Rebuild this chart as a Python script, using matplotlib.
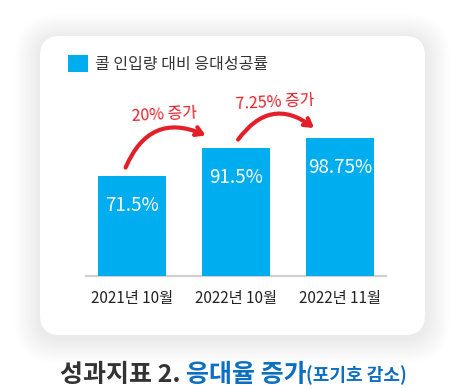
import matplotlib
matplotlib.use("Agg")
import matplotlib.pyplot as plt
from matplotlib.patches import FancyBboxPatch, Patch

plt.rcParams['font.family'] = ['Noto Sans CJK KR', 'DejaVu Sans']

# data
periods = ['2021년 10월', '2022년 10월', '2022년 11월']
rates = [71.5, 91.5, 98.75]
rate_labels = ['71.5%', '91.5%', '98.75%']
growth_labels = ['20% 증가', '7.25% 증가']
legend_label = '콜 인입량 대비 응대성공률'

bar_color = '#00aeef'
red = '#e3202a'
blue = '#0e6fc1'

W, H = 467, 388
fig = plt.figure(figsize=(W / 100, H / 100), dpi=100)
fig.patch.set_facecolor('white')

# card with a soft shadow (inches, 1 in = 100 px)
cx, cy, cw, ch = 0.40, 0.53, 3.85, 2.99
for i in range(10, 0, -1):
    g = i * 0.025
    fig.patches.append(FancyBboxPatch(
        (cx - g, cy - g - 0.03), cw + 2 * g, ch + 2 * g,
        boxstyle=f'round,pad=0,rounding_size={0.2 + g}',
        transform=fig.dpi_scale_trans, facecolor='black', edgecolor='none',
        alpha=0.006, zorder=0))
fig.patches.append(FancyBboxPatch(
    (cx, cy), cw, ch, boxstyle='round,pad=0,rounding_size=0.2',
    transform=fig.dpi_scale_trans, facecolor='white', edgecolor='none',
    zorder=1))

ax = fig.add_axes([86 / W, (H - 276) / H, 300 / W, 236 / H], zorder=2)
ax.patch.set_alpha(0)
x = list(range(len(periods)))
bars = ax.bar(x, rates, width=0.654, color=bar_color, zorder=3)
ax.set_xlim(-0.44, 2.44)
ax.set_ylim(0, 168.7)

for s in ['top', 'right', 'left']:
    ax.spines[s].set_visible(False)
ax.spines['bottom'].set_color('#cfcfcf')
ax.spines['bottom'].set_linewidth(1.6)
ax.set_yticks([])
ax.set_xticks(x)
ax.set_xticklabels(periods, fontsize=11, color='#222222')
ax.tick_params(axis='x', length=0, pad=10)

for xi, v, lab in zip(x, rates, rate_labels):
    ax.annotate(lab, (xi, v), xytext=(0, -21), textcoords='offset points',
                ha='center', va='center', color='white', fontsize=13.5)

# growth arrows between bars
starts = [(-0.06, 6), (0.02, 6)]
ends = [(-0.29, 9), (-0.25, 7)]
text_pos = [(0.31, 24), (0.38, 25)]
for i, lab in enumerate(growth_labels):
    sx = x[i] + starts[i][0]
    sy = rates[i] + starts[i][1]
    ex = x[i + 1] + ends[i][0]
    ey = rates[i + 1] + ends[i][1]
    ax.annotate('', xy=(ex, ey), xytext=(sx, sy),
                arrowprops=dict(arrowstyle='->,head_length=0.5,head_width=0.3',
                                color=red, lw=3,
                                connectionstyle='arc3,rad=-0.5',
                                shrinkA=0, shrinkB=0), zorder=4)
    ax.text(x[i] + text_pos[i][0], rates[i + 1] + text_pos[i][1], lab,
            color=red, fontsize=11.5, ha='center', va='center', rotation=3,
            style='italic', zorder=4)

leg = ax.legend(handles=[Patch(facecolor=bar_color, label=legend_label)],
                loc='upper left', bbox_to_anchor=(68 / W, 1 - 55 / H),
                bbox_transform=fig.transFigure, frameon=False, fontsize=11.5,
                handlelength=1.25, handleheight=1.25, handletextpad=0.45,
                borderaxespad=0, borderpad=0)
for t in leg.get_texts():
    t.set_color('#333333')

# title with mixed colours
fig.canvas.draw()
renderer = fig.canvas.get_renderer()
pieces = [('성과지표 2. ', '#333333', 18), ('응대율 증가', blue, 18),
          ('(포기호 감소)', blue, 13)]
widths = []
for txt, c, fs in pieces:
    t = fig.text(0, 0, txt, fontsize=fs, fontweight='bold')
    widths.append(t.get_window_extent(renderer).width)
    t.remove()
xpos = (W - sum(widths)) / 2
for (txt, c, fs), w in zip(pieces, widths):
    fig.text(xpos / W, 1 - 375 / H, txt, color=c, fontsize=fs,
             fontweight='bold', va='center', ha='left')
    xpos += w

fig.savefig('out.png', dpi=100, facecolor='white')
